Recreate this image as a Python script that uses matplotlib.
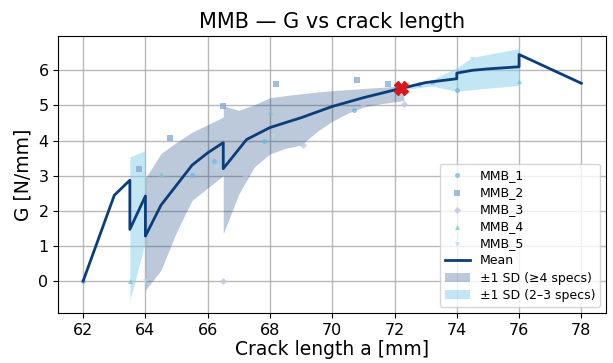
import matplotlib
matplotlib.use("Agg")
import matplotlib.pyplot as plt
import numpy as np

# ---- data ----
specimens = ["MMB_1", "MMB_2", "MMB_3", "MMB_4", "MMB_5"]
mmb1_a = [62.0, 65.5, 66.2, 67.8, 70.7, 72.8, 73.2, 74.0]
mmb1_g = [0.0, 3.03, 3.41, 4.00, 4.88, 5.60, 5.67, 5.43]
mmb2_a = [63.8, 64.8, 66.5, 68.2, 70.8, 71.8]
mmb2_g = [3.20, 4.07, 4.99, 5.62, 5.71, 5.62]
mmb3_a = [66.5, 67.2, 69.05, 69.8, 71.0, 72.3]
mmb3_g = [0.0, 2.96, 3.86, 4.68, 5.03, 5.03]
mmb4_a = [63.5, 64.5, 68.0, 76.0]
mmb4_g = [0.0, 3.05, 4.82, 5.69]
mmb5_a = [64.0, 66.26, 68.1, 74.5]
mmb5_g = [0.0, 3.24, 4.12, 6.31]

mean_a = [62, 63, 63.5, 63.5, 64, 64, 64.5, 65, 65.5, 66, 66.5, 66.5, 67.25, 68,
          69, 70, 71, 72, 72.2, 73, 74, 74, 74.5, 75, 76, 76, 78]
mean_g = [0.0, 2.44, 2.87, 1.47, 2.42, 1.28, 2.16, 2.73, 3.30, 3.65, 3.94, 3.20, 4.03,
          4.37, 4.65, 4.97, 5.22, 5.44, 5.48, 5.65, 5.76, 5.92, 6.00, 6.04, 6.10, 6.45, 5.63]

band4_a = [64, 64.5, 65, 65.5, 66, 66.5, 66.5, 67, 67.5, 68, 68.5, 69, 69.5, 70,
           70.5, 71, 71.5, 72, 72.3]
band4_lo = [-0.26, 0.31, 1.40, 2.30, 2.65, 3.00, 1.35, 2.48, 3.25, 3.62, 3.78, 3.87,
            4.25, 4.55, 4.78, 4.95, 5.04, 5.10, 5.14]
band4_hi = [2.93, 3.63, 3.95, 4.24, 4.45, 4.67, 4.99, 4.86, 5.02, 5.22, 5.28, 5.33,
            5.38, 5.42, 5.45, 5.48, 5.51, 5.54, 5.56]

band23a_a = [63.5, 64.0]
band23a_lo = [-0.55, 1.12]
band23a_hi = [3.53, 3.72]
band23b_a = [72.3, 73.2, 74.0, 74.5, 76.0]
band23b_lo = [5.45, 5.55, 5.40, 5.45, 5.57]
band23b_hi = [5.58, 5.73, 6.07, 6.37, 6.62]

marker_a = [72.2]
marker_g = [5.50]

xticks = [62, 64, 66, 68, 70, 72, 74, 76, 78]
yticks = [0, 1, 2, 3, 4, 5, 6]

# ---- plot ----
fig = plt.figure(figsize=(6.13, 3.63), dpi=100)
ax = fig.add_axes([0.095, 0.138, 0.894, 0.763])

navy = "#0b3d7a"
ax.fill_between(band4_a, band4_lo, band4_hi, color=navy, alpha=0.28, lw=0,
                label="±1 SD (≥4 specs)", zorder=2)
ax.fill_between(band23a_a, band23a_lo, band23a_hi, color="#87ceeb", alpha=0.5, lw=0,
                label="±1 SD (2–3 specs)", zorder=2)
ax.fill_between(band23b_a, band23b_lo, band23b_hi, color="#87ceeb", alpha=0.5, lw=0,
                zorder=2)

series = [(mmb1_a, mmb1_g, "o", "#6fb8e0"),
          (mmb2_a, mmb2_g, "s", "#7fa8d4"),
          (mmb3_a, mmb3_g, "D", "#c2c0e4"),
          (mmb4_a, mmb4_g, "^", "#70c8c8"),
          (mmb5_a, mmb5_g, "v", "#b5dcef")]
for (a, g, m, c), name in zip(series, specimens):
    ax.scatter(a, g, marker=m, s=13, color=c, alpha=0.75, lw=0, label=name, zorder=3)

ax.plot(mean_a, mean_g, color=navy, lw=2, label="Mean", zorder=4)
ax.plot(marker_a, marker_g, marker="X", ms=10, color="#d7191c", ls="none", zorder=5)

ax.set_xticks(xticks)
ax.set_yticks(yticks)
ax.grid(True, color="#a8a8a8", lw=1, alpha=0.8)
ax.set_axisbelow(True)
ax.tick_params(labelsize=11.5)
ax.set_xlabel("Crack length a [mm]", fontsize=13.5, labelpad=2)
ax.set_ylabel("G [N/mm]", fontsize=13.5)
ax.set_title("MMB — G vs crack length", fontsize=15)

h_all, l_all = ax.get_legend_handles_labels()
order = specimens + ["Mean", "±1 SD (≥4 specs)", "±1 SD (2–3 specs)"]
hd = dict(zip(l_all, h_all))
ax.legend([hd[k] for k in order], order, loc="lower right", fontsize=9,
          framealpha=0.8, labelspacing=0.33)

fig.savefig("out.png", dpi=100)
